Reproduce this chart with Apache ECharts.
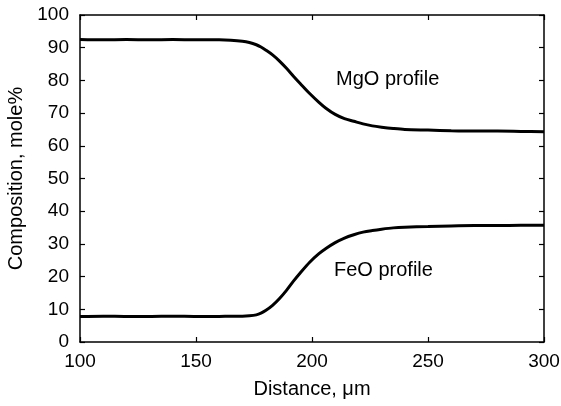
<!DOCTYPE html>
<html>
<head>
<meta charset="utf-8">
<script src="https://cdn.jsdelivr.net/npm/echarts@6/dist/echarts.min.js"></script>
<style>
  html, body { margin: 0; padding: 0; background: #fff; }
  #chart { width: 561px; height: 406px; }
</style>
</head>
<body>
<div id="chart"></div>
<script>
// distance in micrometres, composition in mole%
const distance = [100, 110, 120, 130, 140, 150, 160, 165, 170, 173, 176, 178, 180, 183, 186, 189, 192, 195, 199, 203, 206, 210, 214, 218, 222, 226, 230, 235, 240, 250, 260, 270, 280, 290, 300];
const mgo = [92.5, 92.4, 92.5, 92.4, 92.5, 92.4, 92.4, 92.3, 92.0, 91.6, 90.9, 90.2, 89.3, 87.8, 85.9, 83.7, 81.3, 79.0, 76.0, 73.3, 71.5, 69.6, 68.3, 67.5, 66.7, 66.1, 65.7, 65.3, 65.0, 64.8, 64.6, 64.5, 64.5, 64.4, 64.3];
const feo = [7.8, 7.9, 7.8, 7.8, 7.9, 7.8, 7.8, 7.9, 7.9, 8.0, 8.3, 8.8, 9.6, 11.2, 13.3, 15.8, 18.6, 21.2, 24.4, 27.0, 28.6, 30.4, 31.8, 32.8, 33.6, 34.1, 34.5, 34.9, 35.1, 35.3, 35.5, 35.6, 35.6, 35.7, 35.7];

const xTicks = { min: 100, max: 300, interval: 50 };
const yTicks = { min: 0, max: 100, interval: 10 };

const font = 'Liberation Sans, Arial, sans-serif';
const chart = echarts.init(document.getElementById('chart'));

function axisBase(range, pos, showLabel) {
  return {
    type: 'value',
    position: pos,
    min: range.min,
    max: range.max,
    interval: range.interval,
    axisLine: { show: true, onZero: false, lineStyle: { color: '#000', width: 1.5 } },
    axisTick: { show: true, inside: true, length: 5, lineStyle: { color: '#000', width: 1.2 } },
    axisLabel: { show: showLabel, color: '#000', fontSize: 19, fontFamily: font },
    splitLine: { show: false },
  };
}

const xBottom = Object.assign(axisBase(xTicks, 'bottom', true), {
  name: 'Distance, \u03bcm',
  nameLocation: 'middle',
  nameGap: 37,
  nameTextStyle: { color: '#000', fontSize: 20, fontFamily: font },
});
xBottom.axisLabel.margin = 10;
const yLeft = Object.assign(axisBase(yTicks, 'left', true), {
  name: 'Composition, mole%',
  nameLocation: 'middle',
  nameGap: 54,
  nameTextStyle: { color: '#000', fontSize: 20, fontFamily: font },
});
yLeft.axisLabel.margin = 11;

const option = {
  animation: false,
  backgroundColor: '#fff',
  grid: { left: 80, right: 17, top: 15, bottom: 64, outerBoundsMode: 'none', containLabel: false },
  xAxis: [xBottom, axisBase(xTicks, 'top', false)],
  yAxis: [yLeft, axisBase(yTicks, 'right', false)],
  series: [
    {
      name: 'MgO',
      type: 'line',
      data: distance.map((d, i) => [d, mgo[i]]),
      smooth: 0.3,
      showSymbol: false,
      lineStyle: { color: '#000', width: 3 },
    },
    {
      name: 'FeO',
      type: 'line',
      data: distance.map((d, i) => [d, feo[i]]),
      smooth: 0.3,
      showSymbol: false,
      lineStyle: { color: '#000', width: 3 },
    },
  ],
  graphic: [
    { type: 'text', left: 336, top: 69, style: { text: 'MgO profile', fill: '#000', fontSize: 20, fontFamily: font } },
    { type: 'text', left: 334, top: 260, style: { text: 'FeO profile', fill: '#000', fontSize: 20, fontFamily: font } },
  ],
};

chart.setOption(option);
</script>
</body>
</html>
